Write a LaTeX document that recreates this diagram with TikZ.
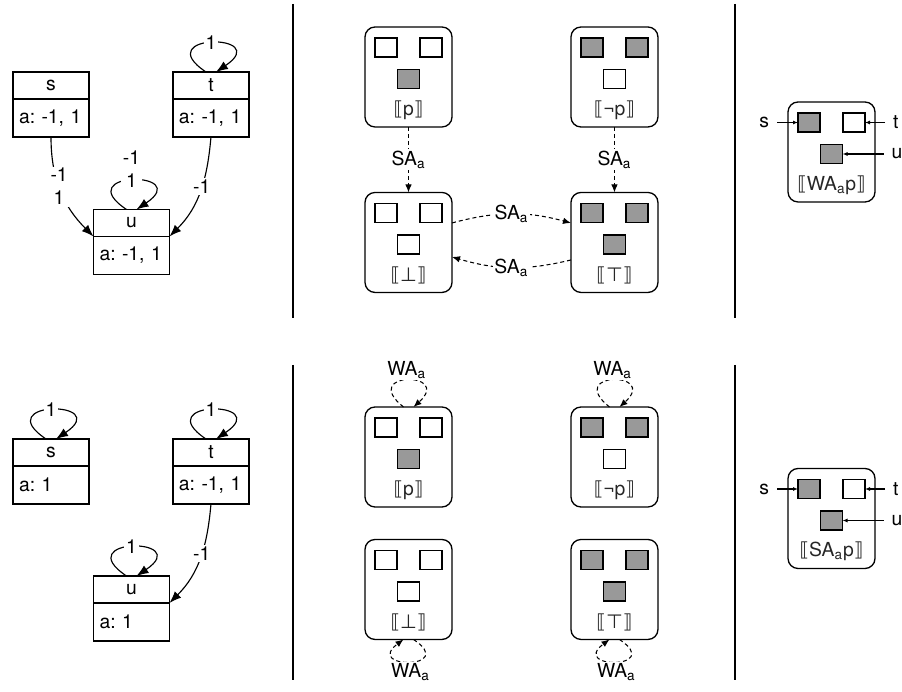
\documentclass[tikz,border=0pt]{standalone}
\usepackage{fontspec}
\setmainfont{TeX Gyre Heros}
\newfontfamily\dejavu{DejaVu Sans}
\usetikzlibrary{arrows.meta,positioning}
\definecolor{valon}{RGB}{153,153,153}
\frenchspacing
\tikzset{every node/.style={font=\fontsize{11}{13}\selectfont, outer sep=0pt}}
\tikzstyle{head} = [rectangle, draw, line width=0.75pt, minimum width=1.52cm,
    minimum height=0.54cm, inner sep=0pt]
\tikzstyle{body} = [rectangle, draw, line width=0.75pt, text width=1.28cm,
    inner xsep=0.12cm, inner ysep=0pt, minimum height=0.76cm, align=left]
\tikzstyle{world} = [rectangle, draw, line width=0.75pt, rounded corners=0.2cm,
    minimum width=1.74cm, minimum height=2cm]
\tikzstyle{cell} = [rectangle, draw, line width=0.75pt, minimum width=0.44cm,
    minimum height=0.38cm, inner sep=0pt]
\tikzstyle{sem} = [text=black!85, inner sep=0pt]
\tikzstyle{lbl} = [fill=white, inner sep=1pt]
\tikzstyle{agent} = [inner sep=0.16cm]
\tikzstyle{link} = [draw, line width=0.65pt, -{Latex[length=2.4mm,width=1.8mm]}]
\tikzstyle{move} = [draw, line width=0.6pt, dash pattern=on 0.08cm off 0.06cm,
    -{Latex[length=1.6mm,width=1.3mm]}]
\tikzstyle{pointer} = [draw, line width=0.65pt, -{Latex[length=1mm,width=0.8mm]}]
\newcommand{\sem}[1]{{\dejavu ⟦}#1{\dejavu ⟧}}
% world box: name, placement, fills of s, t, u, label
\newcommand{\valuation}[6]{%
    \node [world] (#1) #2 {};
    \node [cell, fill=#3] (#1-s) at ([shift={(-22.5,29.5)}]#1.center) {};
    \node [cell, fill=#4] (#1-t) at ([shift={(22.5,29.5)}]#1.center) {};
    \node [cell, fill=#5] (#1-u) at ([shift={(0,-2)}]#1.center) {};
    \node [sem] (#1-l) at ([yshift=-0.66cm]#1.center) {#6};
}

\begin{document}
\begin{tikzpicture}[x=0.02cm, y=0.02cm, node distance=4.12cm]
    \useasboundingbox (0,0) rectangle (902,692);
    % separators
    \draw [line width=0.75pt] (293,688) -- (293,374) (293,327) -- (293,12);
    \draw [line width=0.75pt] (735,688) -- (735,374) (735,327) -- (735,12);

    % left, top
    \node [head] (s1) at (51,606.5) {s};
    \node [body, below=0pt of s1] (s1a) {a: -1, 1};
    \node [head, node distance=3.2cm, right of=s1] (t1) {t};
    \node [body, below=0pt of t1] (t1a) {a: -1, 1};
    \node [head] (u1) at (131.5,469) {u};
    \node [body, below=0pt of u1] (u1a) {a: -1, 1};
    \draw [link] (s1a.south) to [out=-90, in=135]
        node [lbl, align=center, pos=0.45] (e1) {-1\\1} (u1.south west);
    \draw [link] (t1a.south) to [out=-95, in=45]
        node [lbl, pos=0.45] (e2) {-1} (u1.south east);
    \draw [link] ([xshift=-0.1cm]t1.north) .. controls +(-58,39) and +(58,39) ..
        ([xshift=0.1cm]t1.north) node [lbl, pos=0.5] (l1) {1};
    \draw [link] ([xshift=-0.1cm]u1.north) .. controls +(-58,39) and +(58,39) ..
        ([xshift=0.1cm]u1.north) node [lbl, pos=0.5, align=center, yshift=0.22cm] (l2) {-1\\1};

    % left, bottom
    \node [head] (s2) at (51,239.5) {s};
    \node [body, below=0pt of s2] (s2a) {a: 1};
    \node [head, node distance=3.2cm, right of=s2] (t2) {t};
    \node [body, below=0pt of t2] (t2a) {a: -1, 1};
    \node [head] (u2) at (131.5,102.5) {u};
    \node [body, below=0pt of u2] (u2a) {a: 1};
    \draw [link] (t2a.south) to [out=-95, in=45]
        node [lbl, pos=0.45] (e3) {-1} (u2.south east);
    \draw [link] ([xshift=-0.1cm]s2.north) .. controls +(-58,39) and +(58,39) ..
        ([xshift=0.1cm]s2.north) node [lbl, pos=0.5] (l3) {1};
    \draw [link] ([xshift=-0.1cm]t2.north) .. controls +(-58,39) and +(58,39) ..
        ([xshift=0.1cm]t2.north) node [lbl, pos=0.5] (l4) {1};
    \draw [link] ([xshift=-0.1cm]u2.north) .. controls +(-58,39) and +(58,39) ..
        ([xshift=0.1cm]u2.north) node [lbl, pos=0.5] (l5) {1};

    % middle, top
    \valuation{p1}{at (408.5,615)}{white}{white}{valon}{\sem{p}}
    \valuation{np1}{[right of=p1]}{valon}{valon}{white}{\sem{¬p}}
    \valuation{fls1}{[node distance=3.31cm, below of=p1]}{white}{white}{white}{\sem{{\dejavu ⊥}}}
    \valuation{tru1}{[right of=fls1]}{valon}{valon}{valon}{\sem{{\dejavu ⊤}}}
    \draw [move] (p1) -- node [lbl] (m1) {SA\textsubscript{a}} (fls1);
    \draw [move] (np1) -- node [lbl] (m2) {SA\textsubscript{a}} (tru1);
    \draw [move] ([yshift=0.39cm]fls1.east) to [bend left=15]
        node [lbl] (m3) {SA\textsubscript{a}} ([yshift=0.39cm]tru1.west);
    \draw [move] ([yshift=-0.35cm]tru1.west) to [bend left=15]
        node [lbl] (m4) {SA\textsubscript{a}} ([yshift=-0.29cm]fls1.east);

    % middle, bottom
    \valuation{p2}{at (408.5,235)}{white}{white}{valon}{\sem{p}}
    \valuation{np2}{[right of=p2]}{valon}{valon}{white}{\sem{¬p}}
    \valuation{fls2}{[node distance=2.65cm, below of=p2]}{white}{white}{white}{\sem{{\dejavu ⊥}}}
    \valuation{tru2}{[right of=fls2]}{valon}{valon}{valon}{\sem{{\dejavu ⊤}}}
    \draw [move] ([xshift=-0.1cm]p2.north) .. controls +(-45,36) and +(40,36) ..
        ([xshift=0.1cm]p2.north) node [lbl, pos=0.5, above=0pt] (w1) {WA\textsubscript{a}};
    \draw [move] ([xshift=-0.1cm]np2.north) .. controls +(-45,36) and +(40,36) ..
        ([xshift=0.1cm]np2.north) node [lbl, pos=0.5, above=0pt] (w2) {WA\textsubscript{a}};
    \draw [move] ([xshift=0.1cm]fls2.south) .. controls +(45,-30) and +(-40,-30) ..
        ([xshift=-0.1cm]fls2.south) node [lbl, pos=0.5, below=0pt] (w3) {WA\textsubscript{a}};
    \draw [move] ([xshift=0.1cm]tru2.south) .. controls +(45,-30) and +(-40,-30) ..
        ([xshift=-0.1cm]tru2.south) node [lbl, pos=0.5, below=0pt] (w4) {WA\textsubscript{a}};

    % right
    \valuation{wa}{at (831.5,540)}{valon}{white}{valon}{\sem{WA\textsubscript{a}p}}
    \node [agent, left=0.42cm of wa-s] (wa-sl) {s};
    \node [agent, right=0.4cm of wa-t] (wa-tl) {t};
    \node [agent, right=0.82cm of wa-u] (wa-ul) {u};
    \draw [pointer] (wa-sl) -- (wa-s);
    \draw [pointer] (wa-tl) -- (wa-t);
    \draw [pointer] (wa-ul) -- (wa-u);
    \valuation{sa}{at (831.5,173.5)}{valon}{white}{valon}{\sem{SA\textsubscript{a}p}}
    \node [agent, left=0.42cm of sa-s] (sa-sl) {s};
    \node [agent, right=0.4cm of sa-t] (sa-tl) {t};
    \node [agent, right=0.82cm of sa-u] (sa-ul) {u};
    \draw [pointer] (sa-sl) -- (sa-s);
    \draw [pointer] (sa-tl) -- (sa-t);
    \draw [pointer] (sa-ul) -- (sa-u);
\end{tikzpicture}
\end{document}
